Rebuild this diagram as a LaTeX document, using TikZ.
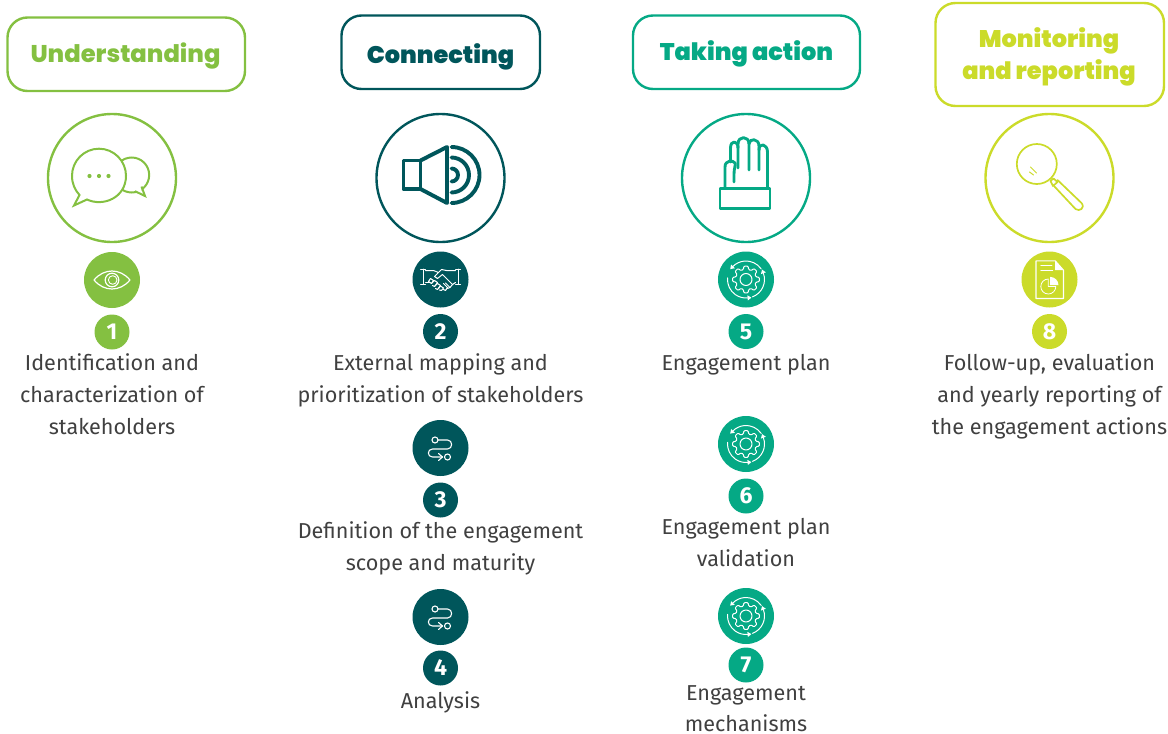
\documentclass[tikz,border=0pt]{standalone}
\usepackage{fontspec}
\setmainfont{Fira Sans}
\newfontfamily\headfont{Poppins}[UprightFont={* Black}]
\newfontfamily\headfontb{Poppins}[UprightFont={* ExtraBold}]
\definecolor{cgreen}{HTML}{84C041}
\definecolor{cdark}{HTML}{00565B}
\definecolor{cteal}{HTML}{05A985}
\definecolor{clime}{HTML}{CBDB2A}
\definecolor{ctext}{HTML}{404040}
\tikzset{
  headbox/.style={draw=#1,line width=2.4pt,rounded corners=20pt,fill=white},
  headlabel/.style={text=#1,font=\headfont\fontsize{24}{32}\selectfont,align=center},
  bigring/.style={circle,draw=#1,line width=2.4pt,minimum size=128pt,inner sep=0pt},
  smalldisc/.style={circle,fill=#1,minimum size=56pt,inner sep=0pt},
  numdisc/.style={circle,fill=#1,minimum size=35pt,inner sep=0pt,text=white,font=\bfseries\fontsize{23}{23}\selectfont},
  bodytext/.style={text=ctext,font=\fontsize{21.6}{32}\selectfont,align=center,anchor=north,inner sep=0pt,outer sep=0pt},
  ic/.style={white,line width=1pt,line cap=round,line join=round},
}
\newcommand{\flowiconb}[2]{\begin{scope}[shift={(#1,#2)},ic,line width=1.1pt]
  \draw (-5.5,-8) circle (3);
  \draw (-2.5,-8) -- (7,-8) .. controls (12.5,-8) and (12.5,1) .. (7,1) -- (-8,1) .. controls (-13.5,1) and (-13.5,9) .. (-8,9) -- (2,9);
  \draw (-2,5.5) -- (2,9) -- (-2,12.5);
  \draw (7,9) circle (3);
  \end{scope}}
\newcommand{\gearicon}[2]{\begin{scope}[shift={(#1,#2)},ic,line width=1pt]
  \draw (0,0) circle (6);
  \draw[rounded corners=1pt] (0:13.5)
    \foreach \a in {0,45,...,315}{
      -- ({\a+9}:13.5) -- ({\a+15}:10.3) -- ({\a+30}:10.3) -- ({\a+36}:13.5) -- ({\a+45}:13.5)
    } -- cycle;
  \draw (70:18.5) arc (70:-20:18.5);
  \draw (-35:18.5) arc (-35:-135:18.5);
  \draw (-175:18.5) arc (-175:-275:18.5);
  \foreach \a in {-20,-135,85}{
    \fill[white] (\a:21.1) -- (\a:15.9) -- ([shift={(\a-90:3.8)}]\a:18.5) -- cycle;
  }
  \end{scope}}
\begin{document}
\begin{tikzpicture}[x=1pt,y=-1pt]
\useasboundingbox (0,0) rectangle (1168,734);
% header boxes
\draw[headbox=cgreen] (7.5,17.5) rectangle (245,91);
\draw[headbox=cdark]  (341.5,15.5) rectangle (540,89);
\draw[headbox=cteal]  (633,15.5) rectangle (860,89);
\draw[headbox=clime]  (935.5,3) rectangle (1164,106);
\node[headlabel=cgreen,font=\headfontb\fontsize{24.2}{32}\selectfont] (h1) at (125.5,56) {Understanding};
\node[headlabel=cdark]  (h2) at (440.5,56.5) {Connecting};
\node[headlabel=cteal]  (h3) at (746.5,54) {Taking action};
\node[headlabel=clime]  (h4) at (1049,57) {Monitoring\\and reporting};
% large rings
\node[bigring=cgreen] (r1) at (112,178) {};
\node[bigring=cdark]  (r2) at (440.5,178) {};
\node[bigring=cteal]  (r3) at (746,178) {};
\node[bigring=clime]  (r4) at (1049.5,178) {};
% chat icon
\begin{scope}[shift={(112,178)},draw=cgreen,line width=2pt,line join=miter]
  \draw (19.7,-3) circle (17.5);
  \fill[white] (-13,-2.3) circle (27);
  \fill[white] (17,9.5) -- (30,16) -- (29,6) -- cycle;
  \draw (29.5,8.5) -- (33,18) -- (23,13.2);
  \draw[fill=white] (-32.5,17) -- (-38,27.5) -- (-25,21.5)
     .. controls (-9,29) and (14,20) .. (14,-2.3)
     .. controls (14,-17) and (2,-29.3) .. (-13,-29.3)
     .. controls (-28,-29.3) and (-40,-17) .. (-40,-2.3)
     .. controls (-40,6) and (-37,12) .. (-32.5,17) -- cycle;
  \fill[cgreen] (-22.5,-2) circle (2.1) (-13,-2) circle (2.1) (-3.5,-2) circle (2.1);
\end{scope}
% speaker icon
\begin{scope}[shift={(440.5,178)},draw=cdark,line width=3.9pt,line join=round,line cap=round]
  \draw (-37,-17.5) rectangle (-20,11);
  \draw (-20,-17.5) -- (6.5,-31) -- (6.5,25) -- (-20,11);
  \draw (11,-31) arc (-90:90:28);
  \draw (11,-20.5) arc (-90:90:17.5);
  \draw (11,-9.5) arc (-90:90:6.5);
\end{scope}
% hand icon
\begin{scope}[shift={(746,178)},draw=cteal,line width=2.9pt,line join=round,line cap=round]
  \draw (-26,10.5) rectangle (24,30.5);
  \draw (-21,10.5) -- (-21,-11) .. controls (-21,-18) and (-13,-18) .. (-11,-15) .. controls (-10,-13) and (-12,-10) .. (-12,-4) -- (-12,4);
  \draw (-15.5,-16) -- (-15.5,-30) .. controls (-15.5,-38) and (-8,-38) .. (-8,-30) -- (-8,-10);
  \draw (-8,-30) -- (-8,-34) .. controls (-8,-42.5) and (3,-42.5) .. (3,-34) -- (3,-8);
  \draw (3,-34) .. controls (3,-40) and (13,-40) .. (13,-32) -- (13,-8);
  \draw (13,-28) .. controls (13,-36) and (21.5,-34) .. (21.5,-26) -- (21.5,10.5);
\end{scope}
% magnifier icon
\begin{scope}[shift={(1049.5,178)},draw=clime,line width=1.7pt,line cap=round,line join=round]
  \draw (-12.7,-14) circle (20);
  \draw (1,3) -- (4,0.5) -- (8,4) -- (3.5,8) -- cycle;
  \draw (8,2) -- (32,25) .. controls (36,30) and (30,34) .. (26,31) -- (4.5,8);
  \draw[line width=1pt] (-19,-11) -- (-13,-5);
  \draw[line width=1pt] (-20,-6) -- (-16,-3);
\end{scope}
% small discs
\node[smalldisc=cgreen] (s1) at (112,280) {};
\node[smalldisc=cdark]  (s2) at (440.5,279.5) {};
\node[smalldisc=cdark]  (s3) at (440.5,448) {};
\node[smalldisc=cdark]  (s4) at (440.5,617) {};
\node[smalldisc=cteal]  (s5) at (746,279.5) {};
\node[smalldisc=cteal]  (s6) at (746,444) {};
\node[smalldisc=cteal]  (s7) at (746,616) {};
\node[smalldisc=clime]  (s8) at (1049.5,279.5) {};
% eye icon
\begin{scope}[shift={(112,280)},ic,line width=1.2pt]
  \draw (-18,0) .. controls (-8,-12) and (8,-12) .. (18,0) .. controls (8,12) and (-8,12) .. (-18,0) -- cycle;
  \draw (0,0) circle (6.8);
  \draw[line width=0.9pt] (0.7,0) circle (4.3);
\end{scope}
% handshake icon
\begin{scope}[shift={(440.5,279.5)},ic,line width=1pt]
  \draw (-20,-10.5) -- (-15,-10.5) (-17.5,-10.5) -- (-17.5,5) (-20,5) -- (-15,5);
  \draw (15,-10.5) -- (20,-10.5) (17.5,-10.5) -- (17.5,5) (15,5) -- (20,5);
  \draw (-15,-9) -- (-7,-9) -- (-2,-7) (15,-9) -- (6,-9) -- (1,-10) -- (-6,-3) -- (-3,-1) -- (2,-5) -- (12,5);
  \draw (-15,3) -- (-11,3);
  \draw (-12,2) -- (-10,-1) -- (-7,1) -- (-9,4) -- cycle;
  \draw (-9,4) -- (-6,1) -- (-3,3) -- (-6,7) -- (-8,6);
  \draw (-6,7) -- (-3,4) -- (0,6) -- (-3,10) -- (-5,9);
  \draw (-2,9) -- (0,6.5) -- (3,8.5) -- (1,11) -- (-1,10.5);
  \draw (3,10) -- (5,11) -- (7,8) -- (3,4);
  \draw (7,9) -- (9.5,8) -- (5,3.5);
  \draw (9.5,8) -- (12,5) -- (15,3);
\end{scope}
\flowiconb{440.5}{448}
\flowiconb{440.5}{617}
\gearicon{746}{279.5}
\gearicon{746}{444}
\gearicon{746}{616}
% document icon
\begin{scope}[shift={(1049.5,279.5)},ic,line width=1.1pt]
  \draw (5.7,-18.7) -- (-13.5,-18.7) -- (-13.5,19) -- (14,19) -- (14,-9.3) -- cycle;
  \fill[white] (5.7,-18.7) -- (14,-9.3) -- (5.7,-9.3) -- cycle;
  \draw (-8.7,-13.7) -- (2.3,-13.7) (-8.7,-8.7) -- (3,-8.7);
  \draw[line width=0.8pt] (-1.2,-0.5) arc (-90:-360:7.5) -- (-1.2,7) -- cycle;
  \fill[white] (0.7,-2.6) arc (-90:0:8.3) -- (0.7,5.7) -- cycle;
\end{scope}
% number discs
\node[numdisc=cgreen] (n1) at (112,332) {1};
\node[numdisc=cdark]  (n2) at (440.5,331.5) {2};
\node[numdisc=cdark]  (n3) at (440.5,500) {3};
\node[numdisc=cdark]  (n4) at (440.5,668) {4};
\node[numdisc=cteal]  (n5) at (746,331.5) {5};
\node[numdisc=cteal]  (n6) at (746,496) {6};
\node[numdisc=cteal]  (n7) at (746,665) {7};
\node[numdisc=clime]  (n8) at (1049.5,331.5) {8};
% texts
\node[bodytext] (t1) at (112,353.8) {Identification and\\characterization of\\stakeholders};
\node[bodytext] (t2) at (440.5,353.8) {External mapping and\\prioritization of stakeholders};
\node[bodytext] (t3) at (440.5,521.8) {Definition of the engagement\\scope and maturity};
\node[bodytext] (t4) at (440.5,691.8) {Analysis};
\node[bodytext] (t5) at (746,353.8) {Engagement plan};
\node[bodytext] (t6) at (746,517.8) {Engagement plan\\validation};
\node[bodytext,font=\fontsize{21.6}{31}\selectfont] (t7) at (746,686) {Engagement\\mechanisms};
\node[bodytext] (t8) at (1049.5,353.8) {Follow-up, evaluation\\and yearly reporting of\\the engagement actions};
\end{tikzpicture}
\end{document}
